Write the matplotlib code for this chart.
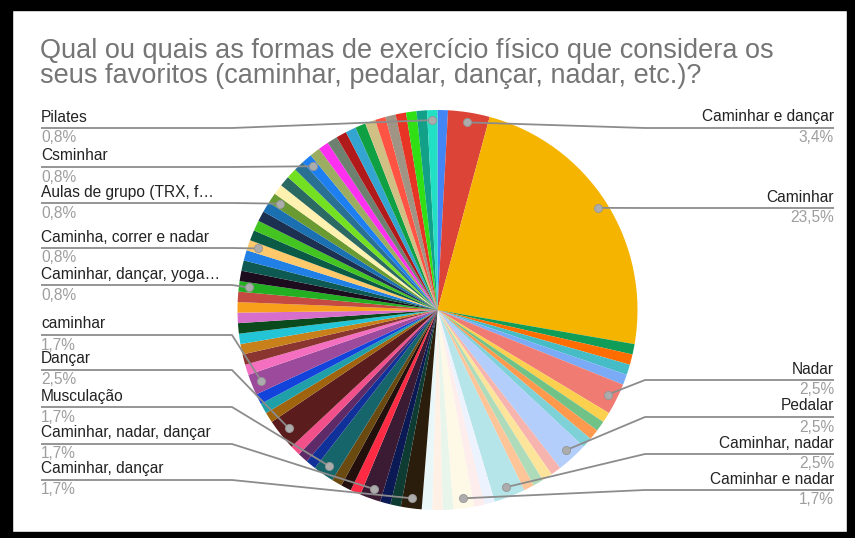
import numpy as np
import matplotlib
matplotlib.use("Agg")
import matplotlib.pyplot as plt
from matplotlib.patches import Rectangle

plt.rcParams['font.family'] = ['Liberation Sans', 'DejaVu Sans']

# respostas, no sentido horario a partir do topo
counts = [1, 4, 28, 1, 1, 1, 1, 3, 1, 1, 1, 1, 3, 1, 1, 1, 1, 3, 1, 1, 2, 1, 1, 1,
          2, 1, 1, 2, 1, 1, 1, 2, 1, 1, 1, 3, 1, 1, 1, 2,
          1, 1, 1, 1, 1, 1, 1, 1, 1, 1, 1, 1, 1, 1, 1, 1, 1, 1,
          1, 1, 1, 1, 1, 1, 1, 1, 1, 1, 1, 1, 1, 1, 1, 1, 1, 1]
names = ['', 'Caminhar e dançar', 'Caminhar', '', '', '', '', 'Nadar', '', '', '', '',
         'Pedalar', '', '', '', '', 'Caminhar, nadar', '', '', 'Caminhar e nadar', '', '', '',
         'Caminhar, dançar', '', '', 'Caminhar, nadar, dançar', '', '', '', 'Musculação',
         '', '', '', 'Dançar', '', '', '', 'caminhar',
         '', '', '', '', '', '', '', '', 'Caminhar, dançar, yoga…', '', '', '',
         'Caminha, correr e nadar', '', '', '', '', 'Aulas de grupo (TRX, f…',
         '', '', '', '', 'Csminhar', '', '', '', '', '', '', '', '', '', '', '', '', 'Pilates']
colors = ['#4285f4', '#db4437', '#f4b400', '#0f9d58', '#ff6d01', '#46bdc6', '#7baaf7',
          '#f07b72', '#fcd04f', '#71c287', '#ff994d', '#7ed1d7', '#b3cefb', '#f7b4ae',
          '#fde49b', '#aedcba', '#ffc599', '#b5e5e8', '#ecf3fe', '#fdedec', '#fef8e6',
          '#e7f5eb', '#fff0e6', '#e9f7f8',
          '#2b1d0b', '#0e3b32', '#0b1a55', '#3b1a33', '#ff2a44', '#23100c', '#6b4a12',
          '#16656a', '#10309a', '#5e2a68', '#f2508a', '#5a1c1c', '#a0640e', '#1fa0a8',
          '#1244dc', '#9c4a9c', '#f46fc0', '#8a3530', '#c8801a', '#22c4d6', '#0a4a1c',
          '#d86ecc', '#f8a01c', '#c44a42', '#22b022', '#1c0c1e', '#0e5a52', '#2080e6',
          '#ffc86a', '#0a5a46', '#44c420', '#1c3052', '#1a70b0', '#6a9a32', '#fff2b0',
          '#2a6a62', '#74e022', '#2a7092', '#1e80f0', '#9cac60', '#ff30f0', '#6e8070',
          '#b01a1a', '#34a4d0', '#10a044', '#d0c084', '#ff5444', '#a09484', '#e83424',
          '#30e014', '#12a088', '#22e0c4']

title_lines = ['Qual ou quais as formas de exercício físico que considera os',
               'seus favoritos (caminhar, pedalar, dançar, nadar, etc.)?']

# posicao vertical (px) do nome de cada rotulo
label_y = {'Caminhar e dançar': 117, 'Caminhar': 197, 'Nadar': 369, 'Pedalar': 406,
           'Caminhar, nadar': 443, 'Caminhar e nadar': 479,
           'Pilates': 117, 'Csminhar': 156, 'Aulas de grupo (TRX, f…': 192,
           'Caminha, correr e nadar': 237, 'Caminhar, dançar, yoga…': 274,
           'caminhar': 324, 'Dançar': 359, 'Musculação': 396,
           'Caminhar, nadar, dançar': 433, 'Caminhar, dançar': 469}

W, H = 855, 538
CX, CY, R = 437.5, 310, 200

fig = plt.figure(figsize=(W / 100, H / 100), dpi=100)
ax = fig.add_axes([0, 0, 1, 1])

ax.pie(counts, colors=colors, startangle=90, counterclock=False,
       center=(CX, H - CY), radius=R, wedgeprops=dict(linewidth=0))
ax.set_xlim(0, W)
ax.set_ylim(0, H)
ax.axis('off')

total = sum(counts)
cum = np.cumsum(counts)
for i, name in enumerate(names):
    if not name:
        continue
    mid = np.radians(360 * (cum[i] - counts[i] / 2) / total)
    dx = CX + 0.95 * R * np.sin(mid)
    dy = CY - 0.95 * R * np.cos(mid)
    ty = label_y[name]
    pct = f"{100 * counts[i] / total:.1f}".replace('.', ',') + '%'
    if np.sin(mid) > 0:
        tx, ha, bend = 834, 'right', 645
    else:
        tx, ha, bend = 41, 'left', 232
    ly = ty + 11
    ax.plot([tx, bend, dx], [H - ly, H - ly, H - dy], color='#8c8c8c', lw=1.3,
            solid_capstyle='butt', zorder=3)
    ax.scatter([dx], [H - dy], s=34, color='#acacac', edgecolor='#959595',
               linewidth=0.6, zorder=4)
    ax.text(tx, H - ty, name, ha=ha, va='center', fontsize=11.2, color='#222222')
    ax.text(tx, H - ty - 21, pct, ha=ha, va='center', fontsize=11.2, color='#9e9e9e')

ax.text(40, H - 51, title_lines[0], ha='left', va='center', fontsize=19.5, color='#757575')
ax.text(40, H - 76, title_lines[1], ha='left', va='center', fontsize=19.5, color='#757575')

# moldura preta
for x0, y0, w, h in [(0, 0, 12, H), (0, H - 10, W, 10), (W - 8, 0, 8, H), (0, 0, W, 6)]:
    ax.add_patch(Rectangle((x0, y0), w, h, color='black', clip_on=False, zorder=10))

fig.savefig('out.png', dpi=100)
